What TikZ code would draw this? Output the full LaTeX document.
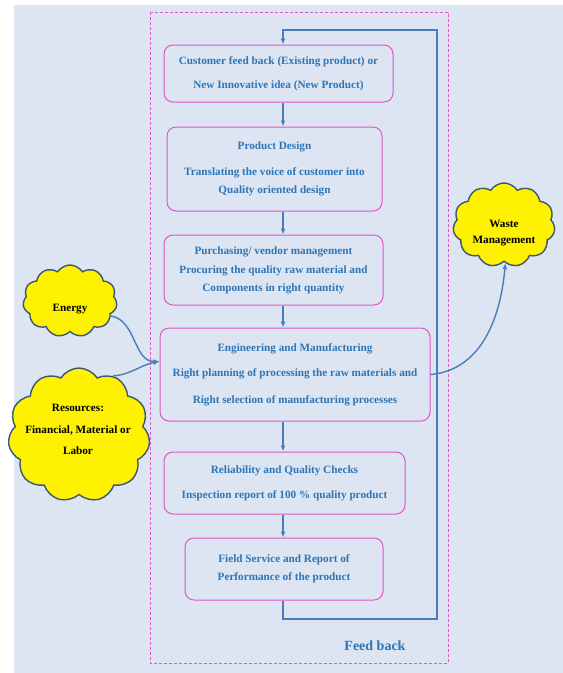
\documentclass[tikz,border=0pt]{standalone}
\usepackage{fontspec}
\setmainfont{Liberation Serif}
\usetikzlibrary{arrows.meta,shapes.symbols}
\definecolor{bgblue}{HTML}{DCE5F1}
\definecolor{txtblue}{HTML}{2E75B6}
\definecolor{boxpink}{HTML}{E255C9}
\definecolor{flowblue}{HTML}{4A7EBB}
\definecolor{cloudedge}{HTML}{3C5674}

\begin{document}
\begin{tikzpicture}[x=1pt, y=-1pt,
  every node/.style={font=\bfseries\fontsize{11.2}{13.5}\selectfont, align=center},
  stagebox/.style={draw=boxpink, line width=1pt, rounded corners=9pt, text=txtblue, inner sep=0pt},
  puff/.style={cloud, cloud puffs=11, cloud puff arc=115, draw=cloudedge, line width=1.4pt,
    fill=yellow, inner sep=0pt},
  flow/.style={draw=flowblue, line width=1.4pt, -{Latex[length=6pt,width=5pt]}}]
  \useasboundingbox (0,0) rectangle (563,673);
  \fill[bgblue] (14,5) rectangle (563,673);

  % process frame
  \draw[boxpink, line width=0.9pt, dash pattern=on 3pt off 2pt] (150,12) rectangle (448,663);

  \node[stagebox, minimum width=229pt, minimum height=57pt] (cust) at (278.5,73.5)
    {Customer feed back (Existing product) or\\[10.5pt]New Innovative idea (New Product)};
  \node[stagebox, minimum width=215pt, minimum height=84pt] (design) at (274.5,169)
    {Product Design\\[12.5pt]Translating the voice of customer into\\[4.5pt]Quality oriented design};
  \node[stagebox, minimum width=219pt, minimum height=70pt] (purch) at (273.5,270)
    {Purchasing/ vendor management\\[5.5pt]Procuring the quality raw material and\\[4.5pt]Components in right quantity};
  \node[stagebox, minimum width=270pt, minimum height=93pt] (engg) at (295,374.5)
    {Engineering and Manufacturing\\[11.5pt]Right planning of processing the raw materials and\\[13.5pt]Right selection of manufacturing processes};
  \node[stagebox, minimum width=241pt, minimum height=62pt] (rel) at (284.5,483)
    {Reliability and Quality Checks\\[11.5pt]Inspection report of 100 \% quality product};
  \node[stagebox, minimum width=198pt, minimum height=62pt] (field) at (284,569)
    {Field Service and Report of\\[4.5pt]Performance of the product};

  \node[text=txtblue, font=\bfseries\fontsize{14}{16}\selectfont] (fbtext) at (375,646) {Feed back};

  % outside inputs and output
  \node[puff, minimum width=94pt, minimum height=72pt] (energy) at (70,301) {};
  \node (energytxt) at (70,309) {Energy};
  \node[puff, minimum width=142pt, minimum height=134pt] (res) at (79,435) {};
  \node (restxt) at (78,429) {Resources:\\[8.5pt]Financial, Material or\\[7.5pt]Labor};
  \node[puff, minimum width=102pt, minimum height=84pt] (waste) at (504,225) {};
  \node (wastetxt) at (504,233) {Waste\\[2.5pt]Management};

  \coordinate (spine) at (283,0);
  \coordinate (fbBot) at (437,619);
  \coordinate (fbTop) at (437,30);
  \coordinate (inpt) at ([yshift=13pt]engg.west);

  \foreach \a/\b in {cust/design, design/purch, purch/engg, engg/rel, rel/field}
    \draw[flow] (\a.south -| spine) -- (\b.north -| spine);

  \draw[flow, line width=2.2pt] (field.south -| spine) |- (fbBot) -- (fbTop) -| (cust.north -| spine);

  \draw[flow] (energy.-20) to[out=-10, in=180] (inpt);
  \draw[flow] (res.60) to[out=5, in=190] (inpt);
  \draw[flow] (engg.east) to[out=5, in=-95] (waste.-88);
\end{tikzpicture}
\end{document}
